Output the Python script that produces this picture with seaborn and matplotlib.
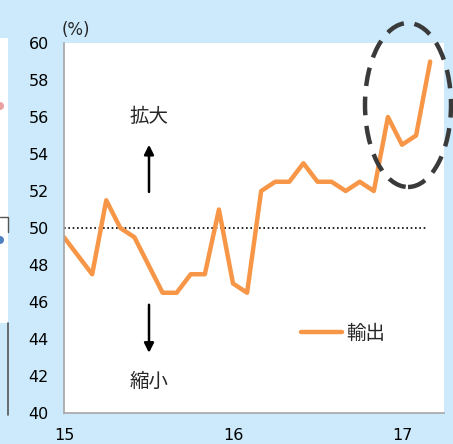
import numpy as np
import pandas as pd
import matplotlib
matplotlib.use("Agg")
import matplotlib.pyplot as plt
from matplotlib.patches import Ellipse, Rectangle
from matplotlib.lines import Line2D
import seaborn as sns

# ---- data ----
months = pd.date_range("2015-01-01", periods=27, freq="MS")
export_pmi = [49.5, 48.5, 47.5, 51.5, 50.0, 49.5, 48.0, 46.5, 46.5, 47.5, 47.5, 51.0,
              47.0, 46.5, 52.0, 52.5, 52.5, 53.5, 52.5, 52.5, 52.0, 52.5, 52.0, 56.0,
              54.5, 55.0, 59.0]
series_name = "輸出"
x_ticks = [15, 16, 17]
x_ticklabels = ["15", "16", "17"]
y_ticks = list(range(40, 61, 2))

df = pd.DataFrame({
    "t": (months.year - 2000) + (months.month - 1) / 12.0,
    "value": export_pmi,
    "series": series_name,
})

sns.set_theme(style="white")
plt.rcParams["font.family"] = ["Noto Sans CJK JP", "DejaVu Sans"]

BG = "#CCEAFB"
ORANGE = "#F79646"
W, H = 453, 444
fig = plt.figure(figsize=(W / 100, H / 100), dpi=100)
fig.patch.set_facecolor(BG)

def px(x0, y0, x1, y1):
    return [x0 / W, 1 - y1 / H, (x1 - x0) / W, (y1 - y0) / H]

# fragments of neighbouring panels at left edge
fig.patches.append(Rectangle((0, 1 - 323 / H), 8 / W, (323 - 38) / H, transform=fig.transFigure,
                             facecolor="white", edgecolor="none", zorder=0))
fig.patches.append(Ellipse((0, 1 - 106 / H), 8 / W, 8 / H, transform=fig.transFigure,
                           facecolor="#E8A0A0", edgecolor="none", zorder=1))
fig.patches.append(Ellipse((0, 1 - 240 / H), 8 / W, 8 / H, transform=fig.transFigure,
                           facecolor="#4F81BD", edgecolor="none", zorder=1))
fig.lines.append(Line2D([0, 8 / W, 8 / W], [1 - 217 / H, 1 - 217 / H, 1 - 232 / H],
                        transform=fig.transFigure, color="#555555", lw=1))
fig.lines.append(Line2D([7.5 / W, 7.5 / W], [1 - 323 / H, 1 - 415 / H],
                        transform=fig.transFigure, color="#555555", lw=1.2))

ax = fig.add_axes(px(64, 43, 444, 413))
ax.set_facecolor("white")

sns.lineplot(data=df, x="t", y="value", hue="series", palette=[ORANGE],
             lw=3.2, ax=ax, legend=True)

ax.axhline(50, xmin=0, xmax=(428 - 64) / 380, color="black", ls=(0, (1, 1.6)), lw=1.2, zorder=1)

ax.set_xlim(15, 15 + (444 - 64) / 169)
ax.set_ylim(40, 60)
ax.set_yticks(y_ticks)
ax.set_xticks(x_ticks)
ax.set_xticklabels(x_ticklabels)
ax.set_xlabel("")
ax.set_ylabel("")
for side in ["top", "right"]:
    ax.spines[side].set_visible(False)
for side in ["left", "bottom"]:
    ax.spines[side].set_color("#A6A6A6")
    ax.spines[side].set_linewidth(1.2)
ax.tick_params(axis="both", which="both", direction="out", length=5, width=1,
               color="#A6A6A6", labelsize=11.5, labelcolor="black")
ax.tick_params(axis="y", pad=6)
ax.tick_params(axis="x", pad=6)
for lab in ax.get_xticklabels() + ax.get_yticklabels():
    lab.set_family(["DejaVu Sans"])

ax.text(-0.005, 1.012, "(%)", transform=ax.transAxes, ha="left", va="bottom",
        fontsize=12, family=["DejaVu Sans"])

xa = 15 + (149 - 64) / 169
ax.annotate("", xy=(xa, 54.65), xytext=(xa, 51.8),
            arrowprops=dict(arrowstyle="-|>", color="black", lw=1.8, mutation_scale=14))
ax.annotate("", xy=(xa, 43.1), xytext=(xa, 46.0),
            arrowprops=dict(arrowstyle="-|>", color="black", lw=1.8, mutation_scale=14))
ax.text(xa, 56.0, "拡大", ha="center", va="center", fontsize=14)
ax.text(xa, 41.7, "縮小", ha="center", va="center", fontsize=14)

leg = ax.legend(loc="center", bbox_to_anchor=((343 - 64) / 380, (413 - 333) / 370),
                frameon=False, fontsize=14, handlelength=2.1, handletextpad=0.2)
for l in leg.get_lines():
    l.set_linewidth(3.2)

ell = Ellipse((408 / W, 1 - 105 / H), 86 / W, 164 / H, angle=0, transform=fig.transFigure,
              fill=False, edgecolor="#3A3A3A", lw=3.2, ls=(0, (4.2, 2.4)), zorder=10)
fig.patches.append(ell)

fig.savefig("out.png", dpi=100, facecolor=BG)
